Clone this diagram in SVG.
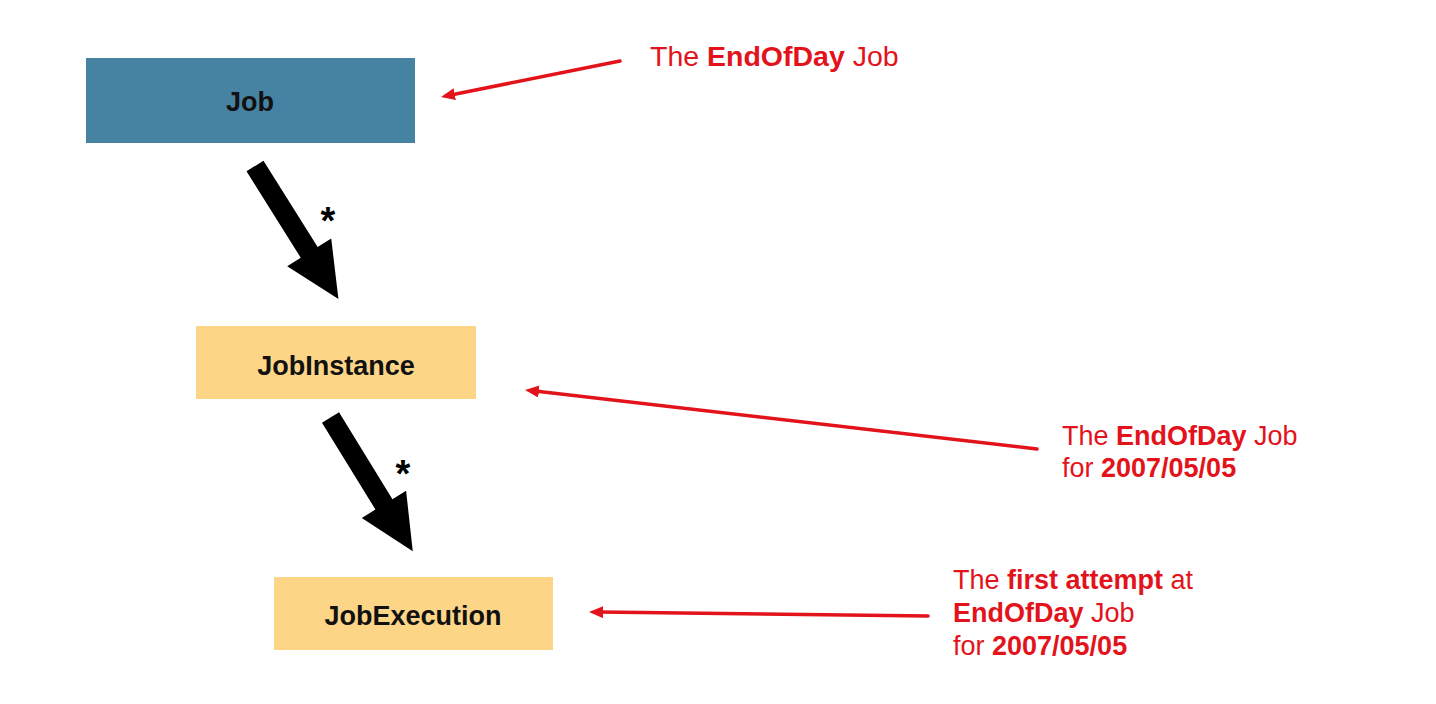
<svg xmlns="http://www.w3.org/2000/svg" width="1436" height="704" viewBox="0 0 1436 704">
<defs>
<style>
.node-label{font-family:"Liberation Sans",Arial,sans-serif;font-weight:bold;font-size:27px;fill:#111;text-anchor:middle}
.note{font-family:"Liberation Sans",Arial,sans-serif;font-size:27px;fill:#e3131b}
.note tspan.b{font-weight:bold}
.star{font-family:"Liberation Sans",Arial,sans-serif;font-weight:bold;font-size:38px;fill:#000;text-anchor:middle}
.red{stroke:#e3131b;stroke-width:3.5;fill:none;stroke-linecap:round;marker-end:url(#redhead)}
.yellow{fill:#fdd587}
</style>
<marker id="redhead" markerUnits="userSpaceOnUse" markerWidth="16" markerHeight="14" refX="4" refY="6" orient="auto">
<path d="M0,0 L14,6 L0,12 Z" fill="#e3131b"/>
</marker>
<path id="bigarrow" d="M0,-10 L102,-10 L102,-26 L157,0 L102,26 L102,10 L0,10 Z" fill="#000"/>
</defs>
<rect width="1436" height="704" fill="#fff"/>
<g id="node-job">
<rect x="86" y="58" width="329" height="85" fill="#4683a2"/>
<text class="node-label" x="250" y="111">Job</text>
</g>
<g id="node-jobinstance">
<rect class="yellow" x="196" y="326" width="280" height="73"/>
<text class="node-label" x="336" y="375">JobInstance</text>
</g>
<g id="node-jobexecution">
<rect class="yellow" x="274" y="577" width="279" height="73"/>
<text class="node-label" x="413" y="625">JobExecution</text>
</g>
<g id="connectors">
<use href="#bigarrow" transform="translate(255,166) rotate(57.9)"/>
<use href="#bigarrow" transform="translate(330.5,417.5) rotate(58.4)"/>
<text class="star" x="328" y="234">*</text>
<text class="star" x="403" y="487">*</text>
<line class="red" x1="620" y1="61" x2="450.8" y2="95"/>
<line class="red" x1="1037" y1="449" x2="534.9" y2="391.1"/>
<line class="red" x1="928" y1="616" x2="599" y2="612.1"/>
</g>
<g id="note-job">
<text class="note" x="650" y="66" style="font-size:28.5px">The <tspan class="b">EndOfDay</tspan> Job</text>
</g>
<g id="note-instance">
<text class="note" x="1062" y="445">The <tspan class="b">EndOfDay</tspan> Job</text>
<text class="note" x="1062" y="477">for <tspan class="b">2007/05/05</tspan></text>
</g>
<g id="note-execution">
<text class="note" x="953" y="589">The <tspan class="b">first attempt</tspan> at</text>
<text class="note" x="953" y="622"><tspan class="b">EndOfDay</tspan> Job</text>
<text class="note" x="953" y="655">for <tspan class="b">2007/05/05</tspan></text>
</g>
</svg>
